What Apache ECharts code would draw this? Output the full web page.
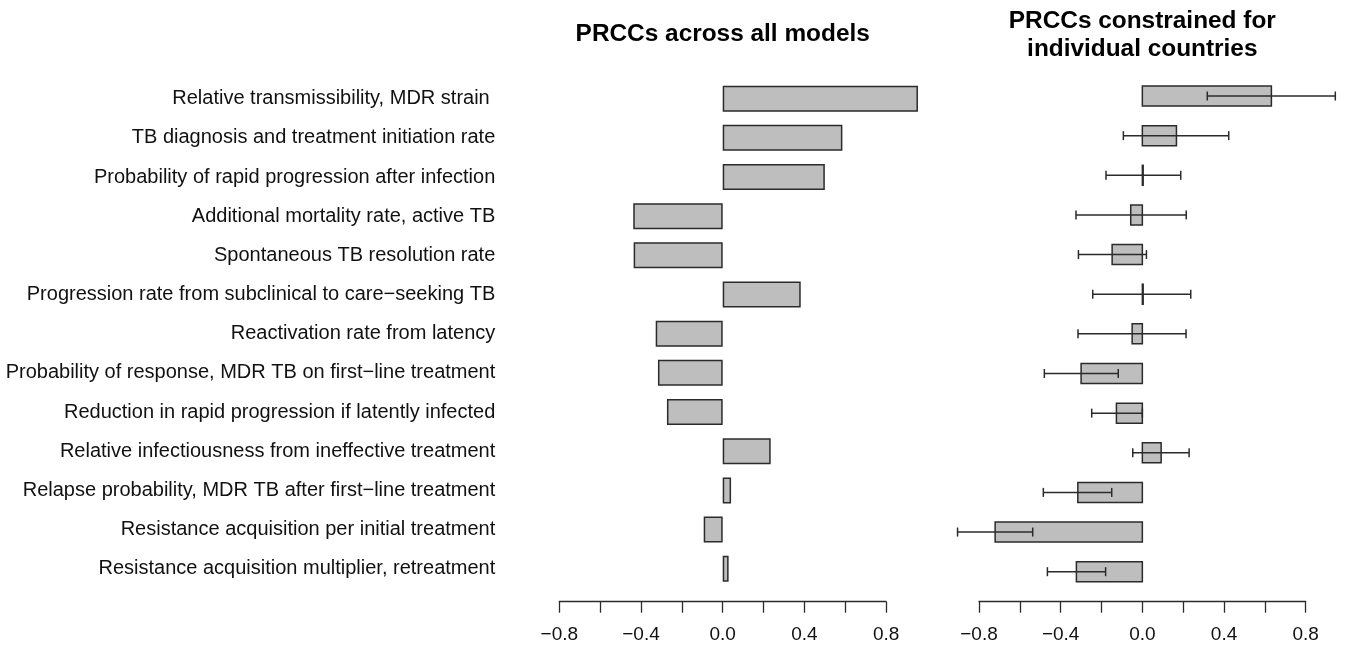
<!DOCTYPE html>
<html>
<head>
<meta charset="utf-8">
<script src="https://cdn.jsdelivr.net/npm/echarts@6/dist/echarts.min.js"></script>
<style>
  html, body { margin: 0; padding: 0; background: #fff; }
  #chart { width: 1347px; height: 650px; }
</style>
</head>
<body>
<div id="chart"></div>
<script>
// Model parameters, top to bottom
const categories = [
  'Relative transmissibility, MDR strain ',
  'TB diagnosis and treatment initiation rate',
  'Probability of rapid progression after infection',
  'Additional mortality rate, active TB',
  'Spontaneous TB resolution rate',
  'Progression rate from subclinical to care\u2212seeking TB',
  'Reactivation rate from latency',
  'Probability of response, MDR TB on first\u2212line treatment',
  'Reduction in rapid progression if latently infected',
  'Relative infectiousness from ineffective treatment',
  'Relapse probability, MDR TB after first\u2212line treatment',
  'Resistance acquisition per initial treatment',
  'Resistance acquisition multiplier, retreatment'
];

// PRCCs across all models
const prccAllModels = [0.956, 0.586, 0.500, -0.438, -0.436, 0.382, -0.328, -0.317, -0.273, 0.235, 0.041, -0.093, 0.029];

// PRCCs constrained for individual countries: median and range
const prccCountryMedian = [0.632, 0.167, 0.004, -0.057, -0.148, 0.004, -0.050, -0.300, -0.127, 0.092, -0.316, -0.721, -0.323];
const prccCountryLow    = [0.318, -0.093, -0.178, -0.325, -0.313, -0.243, -0.315, -0.480, -0.248, -0.047, -0.485, -0.905, -0.465];
const prccCountryHigh   = [0.945, 0.423, 0.188, 0.215, 0.020, 0.237, 0.214, -0.118, 0.000, 0.229, -0.150, -0.537, -0.180];

// Axis ticks
const axisMin = -0.8, axisMax = 0.8, tickStep = 0.2, labelStep = 0.4;

const FONT = "'Liberation Sans', Arial, Helvetica, sans-serif";
const BAR_FILL = '#bebebe';
const EDGE = '#2b2b2b';

const chart = echarts.init(document.getElementById('chart'), null, { renderer: 'canvas' });

// Only every second tick carries a label
function tickLabel(v) {
  if (Math.abs(Math.round(v / labelStep) * labelStep - v) > 1e-6) return '';
  return v.toFixed(1).replace('-', '\u2212');
}

function valueAxis(gridIndex, offset) {
  return {
    type: 'value',
    gridIndex: gridIndex,
    min: axisMin,
    max: axisMax,
    interval: tickStep,
    position: 'bottom',
    offset: offset,
    splitLine: { show: false },
    axisLine: { show: true, lineStyle: { color: EDGE, width: 1.3 } },
    axisTick: { show: true, length: 11, lineStyle: { color: EDGE, width: 1.3 } },
    axisLabel: {
      show: true, margin: 24, color: '#111', fontSize: 19, fontFamily: FONT,
      formatter: tickLabel, showMinLabel: true, showMaxLabel: true
    }
  };
}

// Bar with whiskers for the country-constrained panel
function renderRange(params, api) {
  const idx = api.value(0);
  const med = api.value(1), lo = api.value(2), hi = api.value(3);
  const p0 = api.coord([0, idx]);
  const pm = api.coord([med, idx]);
  const pl = api.coord([lo, idx]);
  const ph = api.coord([hi, idx]);
  const h = 20, cap = 4.5;
  const y = p0[1];
  const x0 = Math.min(p0[0], pm[0]);
  const w = Math.abs(pm[0] - p0[0]);
  const ws = { stroke: EDGE, lineWidth: 1.5 };
  return {
    type: 'group',
    children: [
      {
        type: 'rect',
        shape: { x: x0, y: y - h / 2, width: w, height: h },
        style: { fill: BAR_FILL, stroke: EDGE, lineWidth: 1.5 }
      },
      { type: 'line', shape: { x1: pl[0], y1: y, x2: ph[0], y2: y }, style: ws },
      { type: 'line', shape: { x1: pl[0], y1: y - cap, x2: pl[0], y2: y + cap }, style: ws },
      { type: 'line', shape: { x1: ph[0], y1: y - cap, x2: ph[0], y2: y + cap }, style: ws }
    ]
  };
}

const rangeData = categories.map((c, i) => [i, prccCountryMedian[i], prccCountryLow[i], prccCountryHigh[i]]);

const option = {
  backgroundColor: '#ffffff',
  animation: false,
  graphic: [
    {
      type: 'text', z: 10,
      x: 722.7, y: 34,
      style: {
        text: 'PRCCs across all models', fontFamily: FONT, fontSize: 24.4, fontWeight: 'bold',
        fill: '#000', align: 'center', verticalAlign: 'middle'
      }
    },
    {
      type: 'text', z: 10,
      x: 1142.3, y: 35,
      style: {
        text: 'PRCCs constrained for\nindividual countries', fontFamily: FONT, fontSize: 24.4, fontWeight: 'bold',
        lineHeight: 28, fill: '#000', align: 'center', verticalAlign: 'middle'
      }
    }
  ],
  grid: [
    { left: 559.3, width: 326.8, top: 79.1, height: 509.2, containLabel: false },
    { left: 979, width: 326.7, top: 76.2, height: 515.3, containLabel: false }
  ],
  xAxis: [
    valueAxis(0, 13.4),
    valueAxis(1, 10.2)
  ],
  yAxis: [
    {
      type: 'category', gridIndex: 0, data: categories, inverse: true,
      axisLine: { show: false }, axisTick: { show: false }, splitLine: { show: false },
      axisLabel: { margin: 64, color: '#111', fontSize: 20, fontFamily: FONT, interval: 0 }
    },
    {
      type: 'category', gridIndex: 1, data: categories, inverse: true, show: false
    }
  ],
  series: [
    {
      type: 'bar', xAxisIndex: 0, yAxisIndex: 0,
      data: prccAllModels, barWidth: 26, clip: false,
      itemStyle: { color: BAR_FILL, borderColor: EDGE, borderWidth: 1.5 },
      emphasis: { disabled: true }
    },
    {
      type: 'custom', xAxisIndex: 1, yAxisIndex: 1,
      data: rangeData, clip: false,
      encode: { x: [1, 2, 3], y: 0 },
      renderItem: renderRange
    }
  ]
};

chart.setOption(option);
</script>
</body>
</html>
